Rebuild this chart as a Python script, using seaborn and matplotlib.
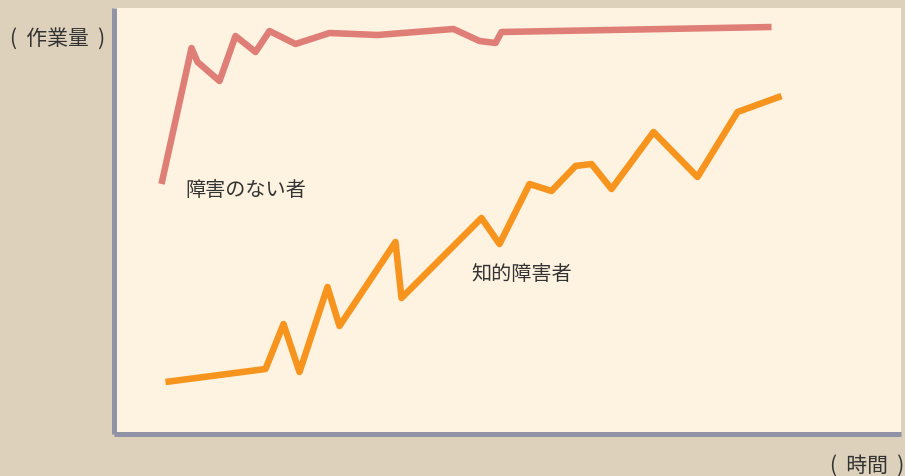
import matplotlib
matplotlib.use("Agg")
import matplotlib.pyplot as plt
import seaborn as sns
import pandas as pd

# Data (time units, work-amount units)
normal_time = [48, 78, 84, 106, 122, 142, 156, 182, 216, 264, 340, 366, 382, 388, 658]
normal_work = [250, 386, 372, 353, 398, 382, 403, 390, 401, 399, 405, 393, 391, 402, 407]

id_time = [52, 152, 170, 186, 214, 226, 282, 288, 368, 386, 416, 438, 462, 478, 498, 540, 584, 624, 668]
id_work = [52, 65, 110, 62, 147, 108, 192, 136, 216, 190, 250, 243, 268, 270, 245, 302, 257, 322, 338]

series_labels = ["障害のない者", "知的障害者"]
x_label = "(  時間  )"
y_label = "(  作業量  )"

sns.set_theme(style="white")
plt.rcParams['font.family'] = ['Noto Sans CJK JP', 'DejaVu Sans']

BG = "#ddd1bb"
CREAM = "#fef2e0"
PINK = "#df7e76"
ORANGE = "#f7941d"
SPINE = "#9093a6"
TEXT = "#333333"

W, H = 905, 477
fig = plt.figure(figsize=(W / 100, H / 100), dpi=100, facecolor=BG)
left, right, top, bottom = 113.5, 901, 9, 435
ax = fig.add_axes([left / W, 1 - bottom / H, (right - left) / W, (bottom - top) / H])
ax.set_facecolor(CREAM)

df_n = pd.DataFrame({"time": normal_time, "work": normal_work})
df_i = pd.DataFrame({"time": id_time, "work": id_work})

for df, col in [(df_n, PINK), (df_i, ORANGE)]:
    sns.lineplot(data=df, x="time", y="work", ax=ax, sort=False, estimator=None,
                 color=col, linewidth=4.7, solid_joinstyle="round", solid_capstyle="butt")

ax.set_xlim(0, right - left)
ax.set_ylim(0, bottom - top)
ax.set_xticks([])
ax.set_yticks([])
ax.set_xlabel("")
ax.set_ylabel("")
for s in ["top", "right"]:
    ax.spines[s].set_visible(False)
for s in ["left", "bottom"]:
    ax.spines[s].set_color(SPINE)
    ax.spines[s].set_linewidth(3.6)
    ax.spines[s].set_capstyle("butt")

ax.text(71.5, 245, series_labels[0], fontsize=14.5, color=TEXT, va="center", ha="left")
ax.text(357.5, 160, series_labels[1], fontsize=14.5, color=TEXT, va="center", ha="left")

fig.text(10 / W, 1 - 39 / H, y_label, fontsize=15, color=TEXT, va="center", ha="left")
fig.text(904 / W, 1 - 466 / H, x_label, fontsize=15, color=TEXT, va="center", ha="right")

fig.savefig("out.png", dpi=100, facecolor=BG)
